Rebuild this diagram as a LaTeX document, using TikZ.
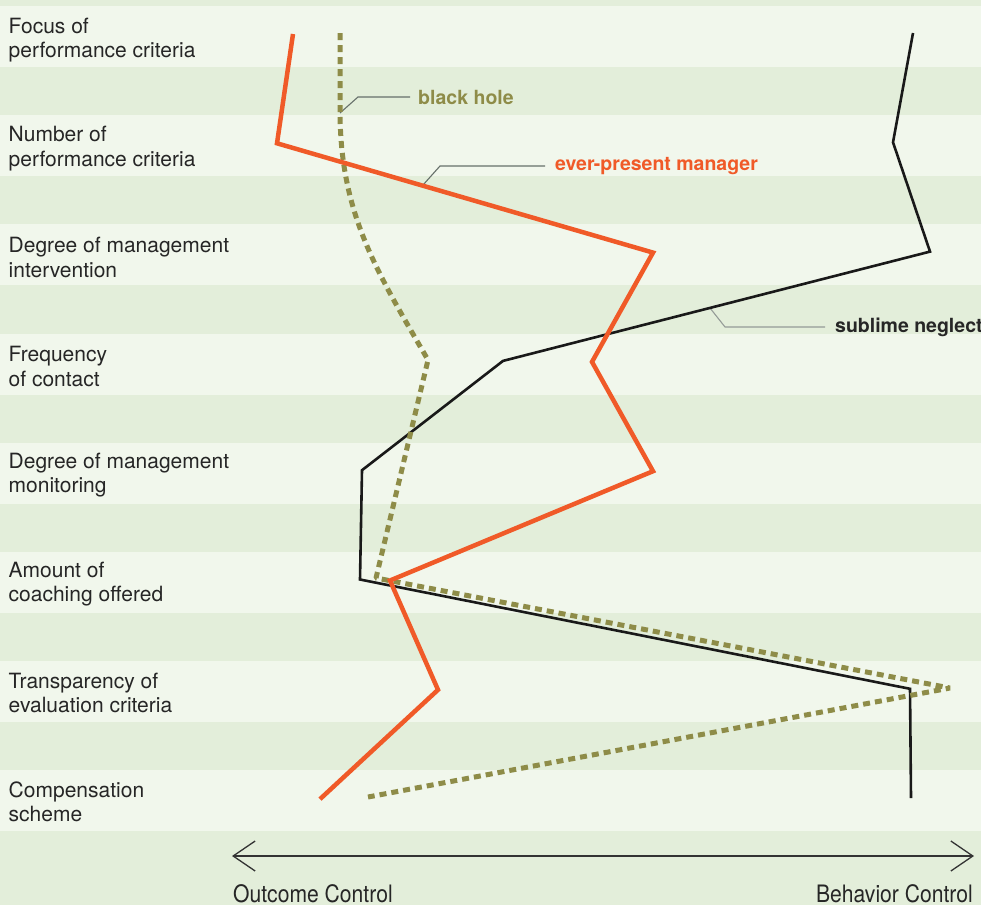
\documentclass[tikz,border=0pt]{standalone}
\usepackage{fontspec}
\setmainfont{TeX Gyre Heros}
\newfontfamily\axisfont[FakeStretch=0.88]{TeX Gyre Heros}
\usetikzlibrary{arrows.meta,positioning}
\definecolor{stripelight}{HTML}{F1F7EC}
\definecolor{stripedark}{HTML}{E3EEDA}
\definecolor{mgrorange}{HTML}{F05A28}
\definecolor{holeolive}{HTML}{8E8C48}
\definecolor{leadgray}{HTML}{66706A}
\tikzset{
  rowlab/.style={anchor=west, align=left, inner sep=0pt, font=\fontsize{21}{24.5}\selectfont, text=black!85},
  curvelab/.style={anchor=west, inner sep=0pt, font=\bfseries\fontsize{19.5}{22}\selectfont},
  axislab/.style={inner sep=0pt, font=\axisfont\fontsize{24}{28}\selectfont, text=black!85},
  leader/.style={draw=leadgray, line width=1.1pt},
  manager/.style={draw=mgrorange, line width=4.5pt},
  neglect/.style={draw=black!90, line width=2.6pt},
  blackhole/.style={draw=holeolive, line width=5pt, dash pattern=on 7pt off 5pt, line join=bevel},
  axisline/.style={draw=black!80, line width=1.3pt, >={Straight Barb[length=22pt,width=30pt]}, <->}
}
\begin{document}
\begin{tikzpicture}[x=1pt, y=-1pt]
      \useasboundingbox (0,0) rectangle (981,905);
      % stripes
      \fill[stripedark] (0,0) rectangle (981,905);
      \foreach \k in {0,...,7}
        \fill[stripelight] (0,6+109.2*\k) rectangle (981,67+109.2*\k);
      % row labels
      \foreach \txt [count=\k from 0] in {{Focus of\\performance criteria},
          {Number of\\performance criteria}, {Degree of management\\intervention},
          {Frequency\\of contact}, {Degree of management\\monitoring},
          {Amount of\\coaching offered}, {Transparency of\\evaluation criteria},
          {Compensation\\scheme}}
        \node[rowlab] (row\k) at (8.5,40+108.8*\k) {\txt};
      % data points
      \foreach \x [count=\k from 0] in {293,277,653,592,653,390,438,320}
        \coordinate (m\k) at (\x,34+109.3*\k);
      \foreach \x [count=\k from 0] in {913,893,930,503,362,360,910,911}
        \coordinate (n\k) at (\x,33+109.3*\k);
      \coordinate (h0) at (340,33);
      \coordinate (h1) at (340,110);
      \coordinate (h3) at (428,360);
      \coordinate (h5) at (376,578);
      \coordinate (h6) at (950,688);
      \coordinate (h7) at (368,797);
      % curve labels
      \coordinate (bhfoot) at (340,113);
      \coordinate (epfoot) at (423,185);
      \coordinate (snfoot) at (710,308);
      \node[curvelab, text=holeolive] (bhlab) at (418,97) {black hole};
      \node[curvelab, text=mgrorange] (eplab) at (555,166) {ever-present manager};
      \node[curvelab, text=black!85] (snlab) at (835,327) {sublime neglect};
      \draw[leader] (bhfoot) -- ++(18,-16) -- ([xshift=-8pt]bhlab.west);
      \draw[leader] (epfoot) -- ++(17,-19) -- ([xshift=-10pt]eplab.west);
      \draw[leader, draw=leadgray!70] (snfoot) -- ++(15,19) -- ([xshift=-10pt]snlab.west);
      % the three profiles
      \draw[neglect] (n0) \foreach \k in {1,...,7} {-- (n\k)};
      \draw[blackhole] (h0) -- (h1) to[out=-90,in=120] (h3) -- (h5) -- (h6) -- (h7);
      \draw[manager] (m0) \foreach \k in {1,...,7} {-- (m\k)};
      % axis
      \coordinate (oc) at (232,856);
      \coordinate (bc) at (974,856);
      \draw[axisline] (oc) -- (bc);
      \node[axislab, anchor=base west] (oclab) at ([xshift=1pt,yshift=-46pt]oc) {Outcome Control};
      \node[axislab, anchor=base east] (bclab) at ([xshift=-1pt,yshift=-46pt]bc) {Behavior Control};
    \end{tikzpicture}
\end{document}
